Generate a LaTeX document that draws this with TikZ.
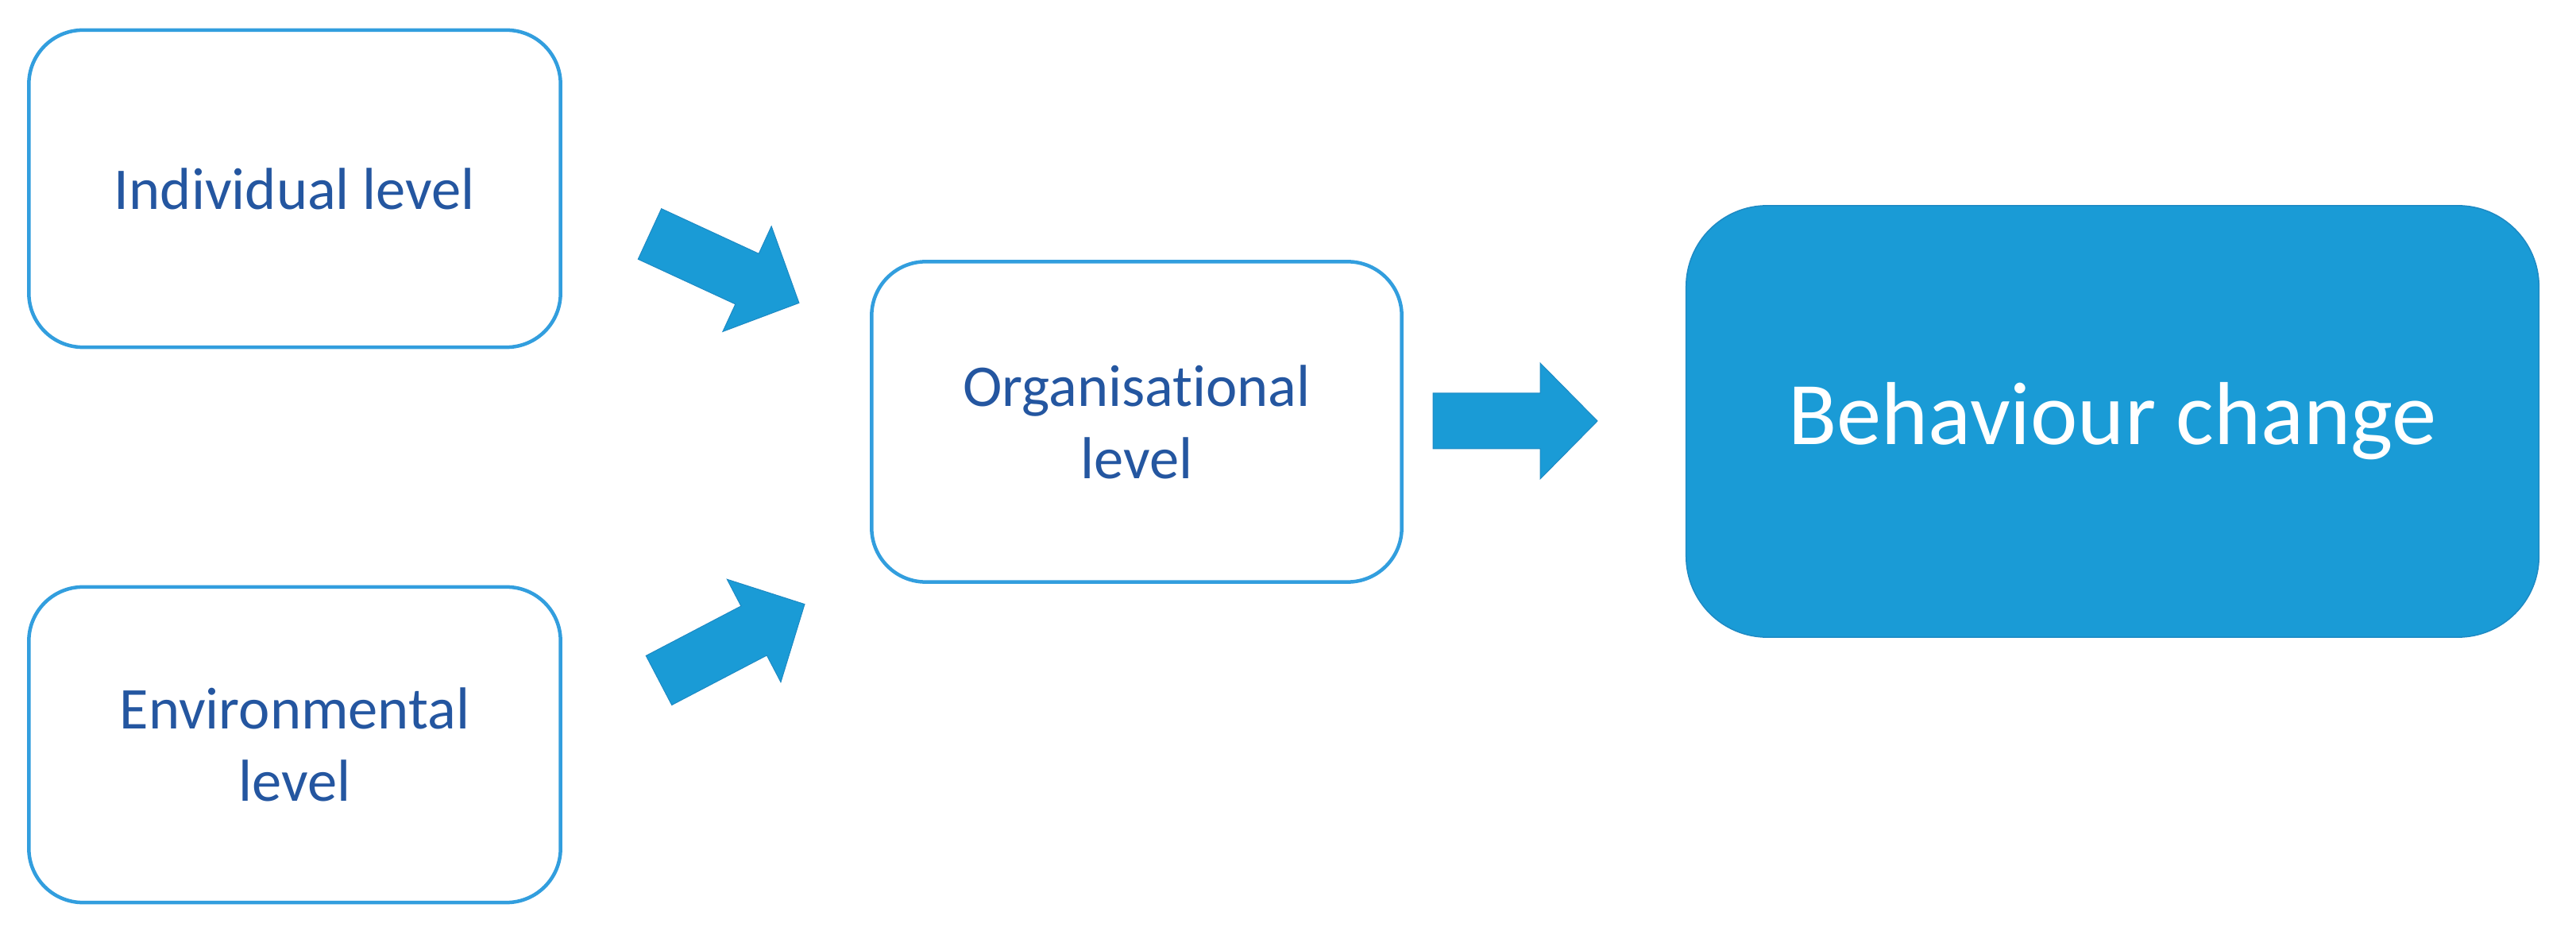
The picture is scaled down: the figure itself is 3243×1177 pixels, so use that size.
\documentclass[tikz,border=0pt]{standalone}
\usepackage{fontspec}
\setmainfont{Carlito}[Ligatures=NoCommon]
\definecolor{boxline}{RGB}{50,158,222}
\definecolor{txtblue}{RGB}{36,86,160}
\definecolor{arrowfill}{RGB}{26,155,214}
\definecolor{arrowedge}{RGB}{30,138,196}
\tikzset{
  levelbox/.style={draw=boxline, line width=0.045cm, fill=white, rounded corners=0.68cm,
    text=txtblue, align=center, font=\fontsize{21.2}{25.9}\selectfont},
  changebox/.style={draw=arrowedge, line width=0.015cm, fill=arrowfill, rounded corners=1.02cm,
    text=white, align=center, font=\fontsize{32}{38}\selectfont},
  blockarrow/.style={fill=arrowfill, draw=arrowedge, line width=0.01cm, line join=miter},
  pics/fatarrow/.style={code={
    \draw[blockarrow] (0,-35) -- (135,-35) -- (135,-73) -- (207,0) -- (135,73) -- (135,35) -- (0,35) -- cycle;
  }}
}
\begin{document}
\begin{tikzpicture}[x=0.01cm,y=-0.01cm]
\useasboundingbox (0,0) rectangle (3243,1177);
\node[levelbox, minimum width=6.69cm, minimum height=3.99cm] (ind) at (371,237.5) {Individual level};
\node[levelbox, minimum width=6.69cm, minimum height=3.97cm] (env) at (371,937.5) {Environmental\\level};
\node[levelbox, minimum width=6.67cm, minimum height=4.03cm] (org) at (1431,531) {Organisat\kern0pt ional\\level};
\node[changebox, minimum width=10.73cm, minimum height=5.43cm] (beh) at (2659.5,530.5) {Behaviour change};
\pic[shift={(818,294.5)}, rotate=-24.8] {fatarrow};
\pic[shift={(829.5,856.5)}, rotate=27.6] {fatarrow};
\pic[shift={(1804,530)}] {fatarrow};
\end{tikzpicture}
\end{document}
